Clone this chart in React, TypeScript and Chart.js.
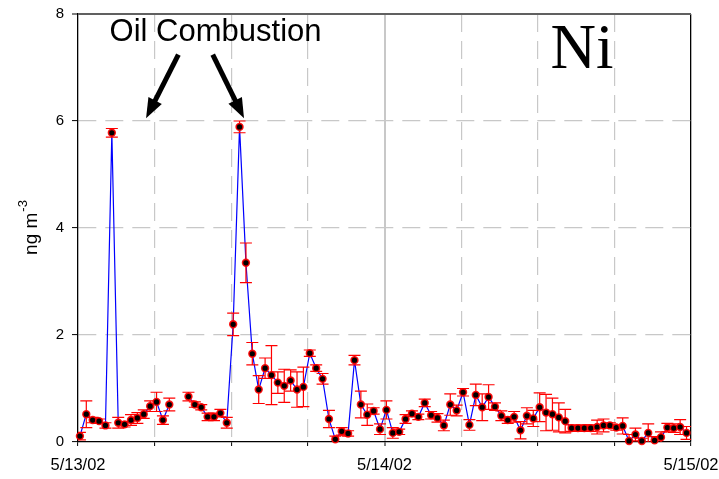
import React, { useEffect, useRef } from "react";
import { Chart, registerables } from "chart.js";

Chart.register(...registerables);

// Sampling schedule (hours after 5/13/02 00:00)
const START_HOUR = 0.15;
const STEP_HOURS = 0.5;

// Ni concentration, ng m-3 (null = no sample)
const niValues: (number | null)[] = [
  0.11, 0.52, 0.41, 0.39, 0.31, 5.78, 0.36, 0.33, 0.41, 0.45,
  0.52, 0.67, 0.75, 0.41, 0.70, null, null, 0.85, 0.70, 0.65,
  0.47, 0.47, 0.54, 0.36, 2.20, 5.89, 3.35, 1.65, 0.98, 1.38,
  1.25, 1.11, 1.05, 1.15, 0.98, 1.03, 1.66, 1.38, 1.18, 0.43,
  0.05, 0.20, 0.16, 1.53, 0.70, 0.51, 0.58, 0.24, 0.60, 0.17,
  0.19, 0.43, 0.53, 0.47, 0.73, 0.50, 0.45, 0.31, 0.70, 0.59,
  0.93, 0.32, 0.88, 0.65, 0.84, 0.66, 0.49, 0.41, 0.47, 0.22,
  0.49, 0.44, 0.65, 0.55, 0.52, 0.46, 0.39, 0.26, 0.26, 0.26,
  0.26, 0.28, 0.31, 0.31, 0.27, 0.30, 0.02, 0.14, 0.02, 0.17,
  0.03, 0.09, 0.27, 0.26, 0.28, 0.17,
];

// Uncertainty (+/-), ng m-3
const niErrors: (number | null)[] = [
  0.07, 0.25, 0.05, 0.04, 0.05, 0.08, 0.10, 0.05, 0.10, 0.10,
  0.08, 0.10, 0.18, 0.08, 0.12, null, null, 0.08, 0.05, 0.05,
  0.07, 0.07, 0.07, 0.10, 0.21, 0.11, 0.37, 0.21, 0.26, 0.19,
  0.55, 0.20, 0.31, 0.20, 0.33, 0.37, 0.06, 0.06, 0.10, 0.16,
  0.06, 0.07, 0.05, 0.09, 0.25, 0.20, 0.06, 0.10, 0.17, 0.10,
  0.05, 0.08, 0.05, 0.05, 0.07, 0.07, 0.08, 0.10, 0.20, 0.10,
  0.07, 0.10, 0.20, 0.25, 0.23, 0.07, 0.09, 0.06, 0.10, 0.16,
  0.15, 0.15, 0.27, 0.34, 0.30, 0.27, 0.22, 0.06, 0.05, 0.06,
  0.06, 0.13, 0.12, 0.05, 0.05, 0.15, 0.12, 0.12, 0.05, 0.17,
  0.07, 0.10, 0.08, 0.08, 0.14, 0.12,
];

const xTickHours = [0, 24, 48];
const xTickLabels = ["5/13/02", "5/14/02", "5/15/02"];

const yTitleMain = "ng m";
const yTitleSup = "-3";
const annotationText = "Oil Combustion";
const elementLabel = "Ni";

// annotation anchors in data units (hours, ng m-3)
const annotationPos = { x: 10.77, y: 7.5 };
const arrowSpecs = [
  { from: { x: 7.86, y: 7.24 }, to: { x: 5.33, y: 6.05 } },
  { from: { x: 10.55, y: 7.24 }, to: { x: 13.0, y: 6.05 } },
];
const elementPos = { x: 39.47, y: 6.99 };

const FONT = "'Liberation Sans', Arial, sans-serif";

function hourOf(i: number) {
  return START_HOUR + i * STEP_HOURS;
}

function drawArrow(ctx: CanvasRenderingContext2D, x1: number, y1: number, x2: number, y2: number) {
  const headLen = 20;
  const headW = 15;
  const ang = Math.atan2(y2 - y1, x2 - x1);
  const bx = x2 - headLen * Math.cos(ang);
  const by = y2 - headLen * Math.sin(ang);
  ctx.lineWidth = 5;
  ctx.beginPath();
  ctx.moveTo(x1, y1);
  ctx.lineTo(bx + 2 * Math.cos(ang), by + 2 * Math.sin(ang));
  ctx.stroke();
  ctx.beginPath();
  ctx.moveTo(x2, y2);
  ctx.lineTo(bx + (headW / 2) * Math.sin(ang), by - (headW / 2) * Math.cos(ang));
  ctx.lineTo(bx - (headW / 2) * Math.sin(ang), by + (headW / 2) * Math.cos(ang));
  ctx.closePath();
  ctx.fill();
}

const overlayPlugin = {
  id: "overlay",
  afterDatasetDraw(chart: any, args: any) {
    if (args.index !== 0) return;
    const { ctx, chartArea, scales } = chart;
    const x = scales.x;
    const y = scales.y;
    ctx.save();
    ctx.beginPath();
    ctx.rect(chartArea.left, chartArea.top - 10, chartArea.right - chartArea.left, chartArea.bottom - chartArea.top + 10);
    ctx.clip();
    ctx.strokeStyle = "#ff0000";
    ctx.lineWidth = 1.2;
    const cap = 6;
    niValues.forEach((v, i) => {
      const e = niErrors[i];
      if (v == null || e == null) return;
      const px = x.getPixelForValue(hourOf(i));
      const top = y.getPixelForValue(v + e);
      const bot = y.getPixelForValue(v - e);
      ctx.beginPath();
      ctx.moveTo(px, top);
      ctx.lineTo(px, bot);
      ctx.moveTo(px - cap, top);
      ctx.lineTo(px + cap, top);
      ctx.moveTo(px - cap, bot);
      ctx.lineTo(px + cap, bot);
      ctx.stroke();
    });
    ctx.restore();
  },
  afterDraw(chart: any) {
    const { ctx, chartArea, scales } = chart;
    const x = scales.x;
    const y = scales.y;
    ctx.save();
    ctx.fillStyle = "#000";
    ctx.strokeStyle = "#000";
    ctx.font = `31px ${FONT}`;
    ctx.textAlign = "center";
    ctx.textBaseline = "alphabetic";
    ctx.fillText(annotationText, x.getPixelForValue(annotationPos.x), y.getPixelForValue(annotationPos.y));
    arrowSpecs.forEach((a) => {
      drawArrow(
        ctx,
        x.getPixelForValue(a.from.x),
        y.getPixelForValue(a.from.y),
        x.getPixelForValue(a.to.x),
        y.getPixelForValue(a.to.y)
      );
    });
    ctx.font = `63px 'Liberation Serif', 'Times New Roman', serif`;
    ctx.fillText(elementLabel, x.getPixelForValue(elementPos.x), y.getPixelForValue(elementPos.y));
    // y axis title with superscript
    const cy = (chartArea.top + chartArea.bottom) / 2;
    ctx.translate(31, cy);
    ctx.rotate(-Math.PI / 2);
    ctx.font = `19px ${FONT}`;
    const wMain = ctx.measureText(yTitleMain).width;
    ctx.font = `13px ${FONT}`;
    const wSup = ctx.measureText(yTitleSup).width;
    const total = wMain + wSup;
    ctx.textAlign = "left";
    ctx.font = `19px ${FONT}`;
    ctx.fillText(yTitleMain, -total / 2, 6);
    ctx.font = `13px ${FONT}`;
    ctx.fillText(yTitleSup, -total / 2 + wMain + 1, -4);
    ctx.restore();
  },
};

export default function App() {
  const canvasRef = useRef<HTMLCanvasElement | null>(null);

  useEffect(() => {
    document.body.style.margin = "0";
    const canvas = canvasRef.current;
    if (!canvas) return;
    const points = niValues.map((v, i) => ({ x: hourOf(i), y: v }));
    const dashGray = [18, 9];

    const chart = new Chart(canvas, {
      type: "line",
      data: {
        datasets: [
          {
            data: points as any,
            borderColor: "#0000ff",
            borderWidth: 1.2,
            pointRadius: 0,
            tension: 0,
            spanGaps: false,
            order: 2,
          },
          {
            data: points as any,
            showLine: false,
            pointRadius: 3.4,
            pointBorderWidth: 1.6,
            pointBackgroundColor: "#000",
            pointBorderColor: "rgba(255,0,0,0.9)",
            clip: false as any,
            order: 1,
          },
        ],
      },
      options: {
        responsive: false,
        animation: false,
        events: [],
        layout: { padding: { left: 0, top: 14, right: 28, bottom: 0 } },
        plugins: { legend: { display: false }, tooltip: { enabled: false } },
        scales: {
          x: {
            type: "linear",
            min: 0,
            max: 48,
            afterFit: (s: any) => {
              s.height = 37;
              s.paddingLeft = 0;
              s.paddingRight = 0;
            },
            ticks: {
              stepSize: 6,
              autoSkip: false,
              maxRotation: 0,
              padding: 10,
              color: "#000",
              font: { family: FONT, size: 16.5 },
              callback: (v: any) => {
                const k = xTickHours.indexOf(Number(v));
                return k >= 0 ? xTickLabels[k] : "";
              },
            },
            grid: {
              drawTicks: true,
              tickLength: 4,
              tickColor: "#000",
              tickWidth: 1,
              color: (c: any) => {
                const v = c.tick?.value;
                if (v === 0) return "rgba(0,0,0,0)";
                if (v === 48) return "#000";
                return "#c8c8c8";
              },
              lineWidth: (c: any) => {
                const v = c.tick?.value;
                if (v === 24) return 2;
                if (v === 48) return 1.3;
                return 1.2;
              },
            },
            border: {
              display: true,
              color: "#000",
              width: 1.3,
              dash: (c: any) => {
                const v = c.tick?.value;
                if (v === undefined || v === 24 || v === 48 || v === 0) return [];
                return dashGray;
              },
            } as any,
          },
          y: {
            type: "linear",
            min: 0,
            max: 8,
            afterFit: (s: any) => {
              s.width = 78;
              s.paddingTop = 0;
              s.paddingBottom = 0;
            },
            ticks: {
              stepSize: 2,
              padding: 8,
              color: "#000",
              font: { family: FONT, size: 15 },
            },
            grid: {
              drawTicks: true,
              tickLength: 6,
              tickColor: "#000",
              tickWidth: 1,
              color: (c: any) => {
                const v = c.tick?.value;
                if (v === 0) return "rgba(0,0,0,0)";
                if (v === 8) return "#606060";
                return "#c8c8c8";
              },
              lineWidth: (c: any) => {
                const v = c.tick?.value;
                if (v === 8) return 2;
                return 1.2;
              },
            },
            border: {
              display: true,
              color: "#000",
              width: 1.3,
              dash: (c: any) => {
                const v = c.tick?.value;
                if (v === undefined || v === 8 || v === 0) return [];
                return dashGray;
              },
            } as any,
          },
        },
      },
      plugins: [overlayPlugin],
    });

    return () => {
      chart.destroy();
    };
  }, []);

  return (
    <div style={{ width: 719, height: 479 }}>
      <canvas ref={canvasRef} width={719} height={479} style={{ display: "block" }} />
    </div>
  );
}
